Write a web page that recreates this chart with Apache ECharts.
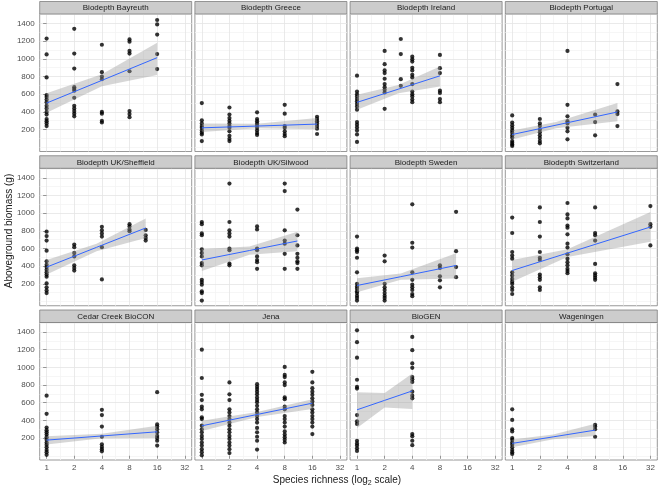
<!DOCTYPE html>
<html><head><meta charset="utf-8">
<script src="https://cdn.jsdelivr.net/npm/echarts@6/dist/echarts.min.js"></script>
<style>html,body{margin:0;padding:0;background:#fff}#c{width:661px;height:492px}</style>
</head><body><div id="c"></div><script>
const siteNames = ['Biodepth Bayreuth','Biodepth Greece','Biodepth Ireland','Biodepth Portugal',
  'Biodepth UK/Sheffield','Biodepth UK/Silwood','Biodepth Sweden','Biodepth Switzerland',
  'Cedar Creek BioCON','Jena','BioGEN','Wageningen'];

// [species richness, [aboveground biomass values]]
const bayreuth = [[1,[1230,1050,790,590,570,540,510,470,440,400,370,320,295,270,240]],[2,[1340,1060,890,680,660,640,560,470,440,410,380,350]],[4,[1160,850,800,770,400,380,300,280]],[8,[1220,1195,1090,1060,860,410,375,340]],[16,[1440,1390,1275,1055,885]]];
const greece = [[1,[500,305,270,240,220,190,165,145,70]],[2,[450,370,330,300,270,240,220,180,130,95,70]],[4,[395,320,295,270,245,220,190,160,140]],[8,[480,380,240,220,180,150,125]],[18,[345,320,295,270,240,210,150]]];
const ireland = [[1,[810,630,600,575,545,520,490,460,425,285,255,225,190,145,60]],[2,[1090,940,870,840,775,715,680,650,620,435]],[3,[1225,1055,770,695]],[4,[1025,995,970,900,870,820,790,715,630,600,575,540,510]],[8,[1045,895,840,640,615,545,510]]];
const portugal = [[1,[360,280,250,220,190,165,135,110,70,50,30,15]],[2,[320,270,240,200,170,135,105,70,45]],[4,[1090,480,350,295,270,220,180,90]],[8,[370,285,135]],[14,[715,405,375,240]]];
const sheffield = [[1,[790,740,690,575,455,415,390,360,330,305,280,205,160,125,95]],[2,[645,615,550,510,410,380,350]],[4,[845,805,770,735,615,250]],[8,[875,850,815,795]],[12,[810,750,720,690]]];
const silwood = [[1,[900,875,770,750,590,550,510,435,410,245,220,190,115,95,10]],[2,[1335,900,805,770,735,600,580,430,410]],[4,[850,815,600,580,510,470,445,370]],[8,[1335,1250,805,690,655,540,370]],[11,[1040,750,635,540,495,455,435,370]]];
const sweden = [[1,[735,600,580,560,495,330,200,170,145,115,95,65,40,10]],[2,[520,455,200,160,130,95,65,40,10]],[4,[1100,665,610,330,245,190,160,130,85,60]],[8,[410,380,285,240,160]],[12,[1015,570,390,275]]];
const switzerland = [[1,[950,775,560,520,485,330,295,255,225,200,160,130,85]],[2,[1065,900,735,560,495,470,305,275,245,160,130]],[4,[1115,985,940,860,835,760,655,610,535,485,445,410,370,345,320]],[8,[1065,775,750,690,425,320,295,270,245]],[32,[1080,875,845,635]]];
const cedarCreek = [[1,[680,475,320,290,265,240,210,180,150,125,95,65,40,10]],[4,[520,460,330,215,130,100,75,50]],[16,[720,355,330,300,265,225,200,170,115]]];
const jena = [[1,[1200,880,690,630,555,525,435,415,340,300,265,225,190,150,115,75,40,5]],[2,[830,695,630,525,490,450,415,375,340,300,265,225,190,150,115,75,30]],[4,[810,780,755,725,695,660,630,605,565,525,490,450,415,375,315,265,215,170,70]],[8,[1005,915,890,830,800,660,640,555,525,450,415,375,330,275,240,210,180,150]],[16,[950,830,765,725,690,650,615,575,525,490,450,415,375,330,245]]];
const bioGEN = [[1,[1420,1285,1110,860,780,760,460,390,360,170,140,115,85,55]],[4,[1345,1195,1045,995,890,865,835,725,680,650,245,220,170,120]]];
const wageningen = [[1,[525,405,300,275,200,180,150,125,95,65,40,20]],[8,[350,330,300,215]]];

// Linear fit: [richness, fit, lower, upper]
const bayreuthFit = [[1,500,390,612],[4,757,690,825],[16,1014,819,1182]];
const greeceFit = [[1,220,172,268],[4,240,215,265],[18,262,205,330]];
const irelandFit = [[1,508,425,594],[2.83,658,612,704],[8,808,687,914]];
const portugalFit = [[1,144,88,189],[3,250,215,285],[14,399,294,500]];
const sheffieldFit = [[1,389,305,470],[3.5,613,570,655],[12,832,720,940]];
const silwoodFit = [[1,470,345,595],[3.3,577,530,622],[11,685,570,790]];
const swedenFit = [[1,181,105,262],[3,281,245,318],[12,408,260,545]];
const switzerlandFit = [[1,351,225,470],[4,548,505,592],[32,843,675,1012]];
const cedarCreekFit = [[1,177,128,222],[4,224,198,250],[16,271,200,340]];
const jenaFit = [[1,339,280,396],[4,467,440,494],[16,595,530,640]];
const bioGENFit = [[1,520,313,720],[2,627,545,710],[4,734,530,930]];
const wageningenFit = [[1,140,97,185],[2.8,214,188,240],[8,290,225,362]];

const xTickLabels = [1,2,4,8,16,32];
const xMinor = [1.414,2.828,5.657,11.31,22.63];
const yTickLabels = [200,400,600,800,1000,1200,1400];
const yMinor = [0,100,300,500,700,900,1100,1300,1500];

const siteData = [bayreuth,greece,ireland,portugal,sheffield,silwood,sweden,switzerland,cedarCreek,jena,bioGEN,wageningen];
const siteFits = [bayreuthFit,greeceFit,irelandFit,portugalFit,sheffieldFit,silwoodFit,swedenFit,switzerlandFit,cedarCreekFit,jenaFit,bioGENFit,wageningenFit];

const FONT = '"Liberation Sans", Arial, Helvetica, sans-serif';
const L0 = 39.7, COLSTEP = 155.2, PW = 152, T0 = 1.5, ROWSTEP = 154.25, SH = 12.5, PH = 137.5;
const XMIN = -0.25, XMAX = 5.25, YMIN = -48, YMAX = 1508;
const lg = v => Math.log2(v);

const grids = [], xAxes = [], yAxes = [], series = [], graphics = [];
siteNames.forEach((name, i) => {
  const c = i % 4, r = Math.floor(i / 4);
  const left = L0 + c * COLSTEP, top = T0 + r * ROWSTEP;
  grids.push({left: left, top: top + SH, width: PW, height: PH, show: true,
    backgroundColor: '#fff', borderColor: '#7F7F7F', borderWidth: 0.8, containLabel: false});
  graphics.push({type: 'rect', shape: {x: left, y: top, width: PW, height: SH},
    style: {fill: '#CCCCCC', stroke: '#7F7F7F', lineWidth: 0.8}, z: 100});
  graphics.push({type: 'text', x: left + PW / 2, y: top + SH / 2 + 0.5, z: 101,
    style: {text: name, fontSize: 8, fontFamily: FONT, fill: '#1A1A1A',
      align: 'center', verticalAlign: 'middle', textAlign: 'center', textVerticalAlign: 'middle'}});
});
// major axes
siteNames.forEach((name, i) => {
  const c = i % 4, r = Math.floor(i / 4);
  xAxes.push({type: 'value', gridIndex: i, min: XMIN, max: XMAX,
    axisLine: {show: false},
    axisTick: {show: r === 2, length: 3, lineStyle: {color: '#7F7F7F', width: 0.8}, customValues: xTickLabels.map(lg)},
    axisLabel: {show: r === 2, customValues: xTickLabels.map(lg), fontSize: 8, fontFamily: FONT, color: '#4D4D4D', margin: 4,
      formatter: v => String(Math.round(Math.pow(2, v)))},
    splitLine: {show: true, lineStyle: {color: '#E5E5E5', width: 0.8}}, z: 1});
  yAxes.push({type: 'value', gridIndex: i, min: YMIN, max: YMAX,
    axisLine: {show: false},
    axisTick: {show: c === 0, length: 3.5, lineStyle: {color: '#7F7F7F', width: 0.8}, customValues: yTickLabels},
    axisLabel: {show: c === 0, customValues: yTickLabels, fontSize: 8, fontFamily: FONT, color: '#4D4D4D', margin: 5,
      formatter: v => String(v)},
    splitLine: {show: true, lineStyle: {color: '#E5E5E5', width: 0.8}}, z: 1});
});
// minor grid axes
siteNames.forEach((name, i) => {
  xAxes.push({type: 'value', gridIndex: i, min: XMIN, max: XMAX,
    axisLine: {show: false}, axisTick: {show: false, customValues: xMinor.map(lg)},
    axisLabel: {show: false, customValues: xMinor.map(lg)},
    splitLine: {show: true, lineStyle: {color: '#F4F4F4', width: 0.8}}, z: 0});
  yAxes.push({type: 'value', gridIndex: i, min: YMIN, max: YMAX,
    axisLine: {show: false}, axisTick: {show: false, customValues: yMinor},
    axisLabel: {show: false, customValues: yMinor},
    splitLine: {show: true, lineStyle: {color: '#F4F4F4', width: 0.8}}, z: 0});
});

siteData.forEach((site, i) => {
  const pts = [];
  site.forEach(([x, ys]) => ys.forEach(y => pts.push([lg(x), y])));
  series.push({type: 'scatter', xAxisIndex: i, yAxisIndex: i, data: pts, symbolSize: 4.2,
    itemStyle: {color: '#000'}, silent: true, z: 2, animation: false});
  const fit = siteFits[i];
  series.push({type: 'custom', xAxisIndex: i, yAxisIndex: i, z: 3, silent: true, animation: false,
    data: [[0, 0]],
    renderItem: (params, api) => {
      const up = fit.map(f => api.coord([lg(f[0]), f[3]]));
      const lo = fit.slice().reverse().map(f => api.coord([lg(f[0]), f[2]]));
      return {type: 'polygon', shape: {points: up.concat(lo)}, style: {fill: 'rgba(153,153,153,0.4)'}};
    }});
  series.push({type: 'line', xAxisIndex: i, yAxisIndex: i, z: 4, silent: true, animation: false,
    data: fit.map(f => [lg(f[0]), f[1]]), symbol: 'none',
    lineStyle: {color: '#3366FF', width: 1}});
});

graphics.push({type: 'text', x: 9, y: 231, rotation: Math.PI / 2, z: 101,
  style: {text: 'Aboveground biomass (g)', fontSize: 10, fontFamily: FONT, fill: '#1A1A1A',
    align: 'center', verticalAlign: 'middle', textAlign: 'center', textVerticalAlign: 'middle'}});
graphics.push({type: 'text', x: 337, y: 480, z: 101,
  style: {text: '{a|Species richness (log}{s|2}{a| scale)}', fontFamily: FONT, fill: '#1A1A1A',
    align: 'center', verticalAlign: 'middle', textAlign: 'center', textVerticalAlign: 'middle',
    rich: {a: {fontSize: 10, lineHeight: 14, fontFamily: FONT, fill: '#1A1A1A', color: '#1A1A1A'},
           s: {fontSize: 7, lineHeight: 7, verticalAlign: 'bottom', fontFamily: FONT, fill: '#1A1A1A', color: '#1A1A1A'}}}});

const chart = echarts.init(document.getElementById('c'), null, {renderer: 'canvas'});
chart.setOption({animation: false, backgroundColor: '#fff', grid: grids, xAxis: xAxes, yAxis: yAxes,
  series: series, graphic: {elements: graphics}});
</script></body></html>
